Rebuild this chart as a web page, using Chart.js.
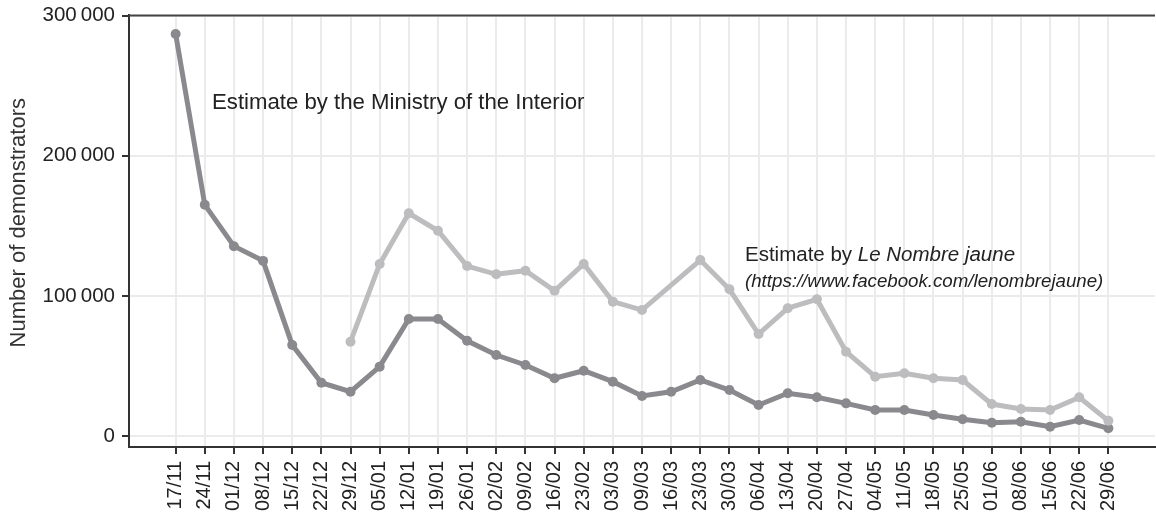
<!DOCTYPE html>
<html>
<head>
<meta charset="utf-8">
<script src="https://cdn.jsdelivr.net/npm/chart.js@4.4.1/dist/chart.umd.min.js"></script>
<style>
  html, body { margin: 0; padding: 0; background: #ffffff; overflow: hidden; }
  #wrap { width: 1160px; height: 517px; }
</style>
</head>
<body>
<div id="wrap"><canvas id="c" width="1160" height="517"></canvas></div>
<script>
const categories = ["17/11","24/11","01/12","08/12","15/12","22/12","29/12","05/01","12/01","19/01","26/01","02/02","09/02","16/02","23/02","03/03","09/03","16/03","23/03","30/03","06/04","13/04","20/04","27/04","04/05","11/05","18/05","25/05","01/06","08/06","15/06","22/06","29/06"];

const ministryValues = [287000,165000,135500,125000,65000,38000,31600,49500,83500,83500,68000,57800,50700,41200,46600,38800,28600,31600,40000,32800,22100,30500,27600,23300,18600,18600,15000,11900,9500,10200,6600,11400,5500];

const nombreJauneValues = [null,null,null,null,null,null,67300,122800,159000,146500,121300,115400,118000,103700,122800,95900,89900,null,125600,104700,72800,91200,97600,60200,42300,44800,41200,40000,22800,19300,18600,27600,10900];

const yTickValues = [0,100000,200000,300000];

const annotationMinistry = "Estimate by the Ministry of the Interior";
const annotationJaunePrefix = "Estimate by ";
const annotationJauneItalic = "Le Nombre jaune";
const annotationJauneUrl = "(https://www.facebook.com/lenombrejaune)";
const yTitle = "Number of demonstrators";

const FONT = "'Liberation Sans', Arial, Helvetica, sans-serif";

function fmt(v) {
  return String(v).replace(/\B(?=(\d{3})+(?!\d))/g, '\u2009');
}

const toXY = arr => arr.map((v, i) => ({ x: i, y: v }));

const framePlugin = {
  id: 'frame',
  afterDatasetsDraw(chart) {
    const { ctx, chartArea } = chart;
    ctx.save();
    ctx.strokeStyle = '#444444';
    ctx.lineWidth = 2;
    ctx.beginPath();
    ctx.moveTo(chartArea.left, chartArea.top + 0.5);
    ctx.lineTo(chartArea.right, chartArea.top + 0.5);
    ctx.stroke();
    ctx.restore();

    // annotations
    ctx.save();
    ctx.fillStyle = '#222222';
    ctx.textBaseline = 'middle';
    ctx.textAlign = 'left';
    ctx.font = "22.2px " + FONT;
    ctx.fillText(annotationMinistry, 212, 103);

    let x = 745;
    ctx.font = "20.5px " + FONT;
    ctx.fillText(annotationJaunePrefix, x, 255);
    x += ctx.measureText(annotationJaunePrefix).width;
    ctx.font = "italic 20.5px " + FONT;
    ctx.fillText(annotationJauneItalic, x, 255);
    ctx.font = "italic 18.7px " + FONT;
    ctx.fillText(annotationJauneUrl, 745, 282);
    ctx.restore();
  }
};

new Chart(document.getElementById('c'), {
  type: 'line',
  data: {
    datasets: [
      {
        label: 'Le Nombre jaune',
        data: toXY(nombreJauneValues),
        borderColor: '#bdbdbf',
        backgroundColor: '#bdbdbf',
        pointBackgroundColor: '#bdbdbf',
        pointBorderColor: '#bdbdbf',
        borderWidth: 5,
        pointRadius: 5,
        pointBorderWidth: 0,
        spanGaps: true,
        tension: 0
      },
      {
        label: 'Ministry of the Interior',
        data: toXY(ministryValues),
        borderColor: '#8a8a8e',
        backgroundColor: '#8a8a8e',
        pointBackgroundColor: '#8a8a8e',
        pointBorderColor: '#8a8a8e',
        borderWidth: 5,
        pointRadius: 5,
        pointBorderWidth: 0,
        tension: 0
      }
    ]
  },
  options: {
    responsive: false,
    animation: false,
    devicePixelRatio: 1,
    layout: { padding: { top: 15, left: 0, right: 0, bottom: 0 } },
    plugins: {
      legend: { display: false },
      tooltip: { enabled: false }
    },
    scales: {
      x: {
        type: 'linear',
        min: -1.6,
        max: 33.6,
        afterBuildTicks: s => { s.ticks = categories.map((_, i) => ({ value: i })); },
        afterFit: s => { s.height = 70; s.paddingLeft = 0; s.paddingRight = 0; },
        grid: {
          color: '#ebebeb',
          lineWidth: 2,
          drawTicks: true,
          tickLength: 7,
          tickColor: '#333333',
          tickWidth: 2
        },
        border: { display: true, color: '#333333', width: 2 },
        ticks: {
          autoSkip: false,
          maxRotation: 90,
          minRotation: 90,
          padding: 7,
          color: '#222222',
          font: { family: FONT, size: 20 },
          callback: v => categories[v]
        }
      },
      y: {
        type: 'linear',
        min: -7850,
        max: 300500,
        afterBuildTicks: s => { s.ticks = yTickValues.map(v => ({ value: v })); },
        afterFit: s => { s.width = 129; s.paddingTop = 0; s.paddingBottom = 0; },
        grid: {
          color: '#ebebeb',
          lineWidth: 2,
          drawTicks: true,
          tickLength: 7,
          tickColor: '#333333',
          tickWidth: 2
        },
        border: { display: true, color: '#333333', width: 2 },
        ticks: {
          padding: 7,
          color: '#222222',
          font: { family: FONT, size: 20.5 },
          callback: v => fmt(v)
        },
        title: {
          display: true,
          text: '\u00a0\u00a0\u2009' + yTitle,
          color: '#333333',
          font: { family: FONT, size: 22 },
          padding: { top: 6, bottom: 0 }
        }
      }
    }
  },
  plugins: [framePlugin]
});
</script>
</body>
</html>
